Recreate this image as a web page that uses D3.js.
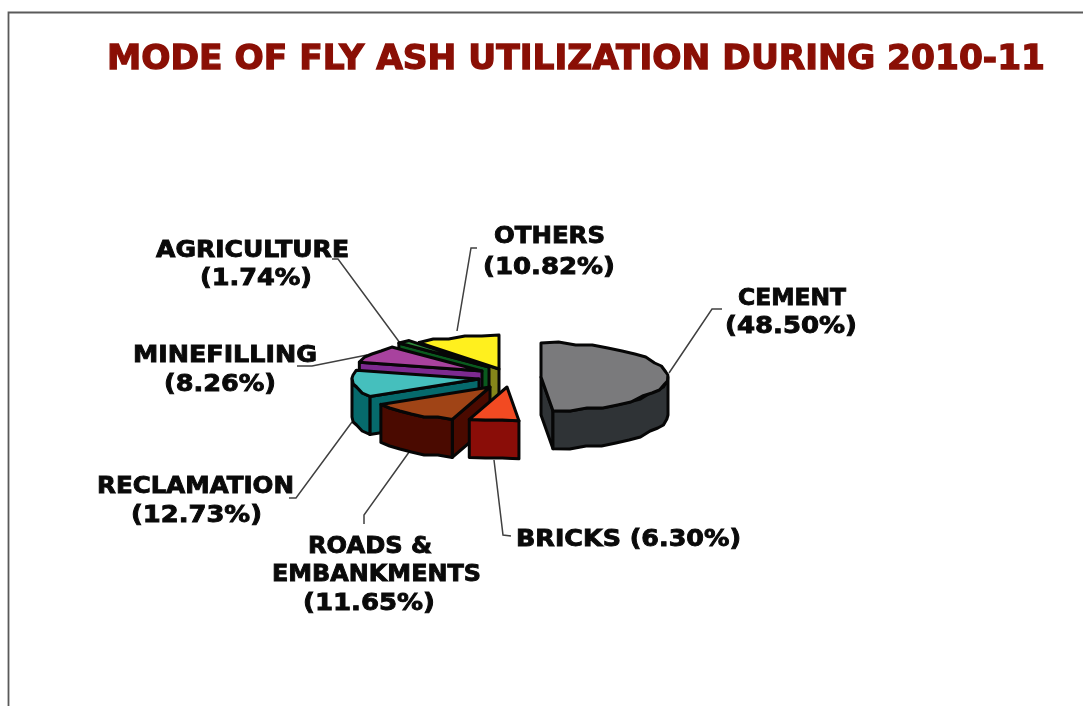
<!DOCTYPE html>
<html><head><meta charset="utf-8">
<script src="https://cdn.jsdelivr.net/npm/d3@7"></script>
<style>html,body{margin:0;padding:0;background:#fff;overflow:hidden}svg{display:block;filter:blur(.55px)}text{font-family:"DejaVu Sans";font-weight:700}</style>
</head><body><svg id="c" width="1083" height="706"></svg>
<script>
// Data
const chartTitle = "MODE OF FLY ASH UTILIZATION DURING 2010-11";
const categories = ["CEMENT","BRICKS","ROADS & EMBANKMENTS","RECLAMATION","MINEFILLING","AGRICULTURE","OTHERS"];
const shares = [48.50,6.30,11.65,12.73,8.26,1.74,10.82];
const topColors = ["#7a7a7c","#f24a22","#a04416","#45bfbd","#a8429e","#2f8a3a","#fff01e"];
const sideColors = ["#2f3336","#8a0d08","#4a0a00","#066a6c","#7d2a90","#0a5a1e","#85851a"];
// Layout
const apexX = [541,507,490,479,482,489,499];
const apexY = [377,387,387,379,371,367,369];
const depth = 38, rimRx = 127, rimRy = 34;
const labelLines = [
  [["CEMENT",738,305,108],["(48.50%)",725,333,132]],
  [["BRICKS (6.30%)",516,546,225]],
  [["ROADS &",308,553,124],["EMBANKMENTS",272,581,209],["(11.65%)",303,610,132]],
  [["RECLAMATION",97,493,197],["(12.73%)",131,522,131]],
  [["MINEFILLING",133,362,184],["(8.26%)",164,391,112]],
  [["AGRICULTURE",156,257,193],["(1.74%)",200,285,112]],
  [["OTHERS",494,243,111],["(10.82%)",483,274,132]]
];
const leaders = [
  [[722,309],[712,309],[669,373]],
  [[494,460],[503,535],[511,536]],
  [[364,524],[364,515],[412,448]],
  [[289,498],[296,498],[352,422]],
  [[297,366],[312,366],[367,355]],
  [[332,259],[338,259],[400,343]],
  [[477,248],[471,248],[457,331]]
];

const svg = d3.select("#c");
const sx = d3.scaleLinear().domain([-1,1]).range([-rimRx,rimRx]);
const sy = d3.scaleLinear().domain([-1,1]).range([-rimRy,rimRy]);
const slices = d3.pie().sort(null).value(d=>d)(shares);
const line = d3.line();
const snap = (v,s)=>Math.round(v/s)*s;

function rim(i,a0,a1,dz){
  const n = Math.max(1,Math.ceil((a1-a0)/0.14));
  return d3.range(n+1).map(k=>{
    const a = a0+(a1-a0)*k/n;
    let x = apexX[i]+sx(Math.sin(a)), y = apexY[i]+sy(-Math.cos(a));
    if(k>0&&k<n){ y = snap(y,3); }
    return [x,y+dz];
  });
}
function face(pts,fill){
  svg.append("path").attr("d",line(pts)+"Z").attr("fill",fill)
    .attr("stroke","#060606").attr("stroke-width",3).attr("stroke-linejoin","round");
}
svg.append("path").attr("d","M8.5,706V12.5H1083").attr("fill","none").attr("stroke","#5a5a5a").attr("stroke-width",1.8);

leaders.forEach(l=>svg.append("path").attr("d",line(l)).attr("fill","none").attr("stroke","#404040").attr("stroke-width",1.5));

d3.range(slices.length).reverse().forEach(i=>{
  const s = slices[i], a0 = s.startAngle, a1 = s.endAngle, mid=(a0+a1)/2;
  const ax=apexX[i], ay=apexY[i];
  const m=[sx(Math.sin(mid)),sy(-Math.cos(mid))];
  [a0,a1].forEach(a=>{
    const e=[sx(Math.sin(a)),sy(-Math.cos(a))];
    if(Math.abs(e[0])<1) return;
    if(m[1] < e[1]*m[0]/e[0]){
      face([[ax,ay],[ax+e[0],ay+e[1]],[ax+e[0],ay+e[1]+depth],[ax,ay+depth]],sideColors[i]);
    }
  });
  const w0=Math.max(a0,Math.PI/2), w1=Math.min(a1,Math.PI*1.5);
  if(w1>w0){
    face(rim(i,w0,w1,0).concat(rim(i,w0,w1,depth).reverse()),sideColors[i]);
  }
  face([[ax,ay]].concat(rim(i,a0,a1,0)),topColors[i]);
});

labelLines.forEach(ls=>ls.forEach(([t,x,y,w])=>{
  svg.append("text").attr("x",x).attr("y",y).attr("font-size",23).attr("fill","#0a0a0a")
    .attr("stroke","#0a0a0a").attr("stroke-width",0.9)
    .attr("textLength",w).attr("lengthAdjust","spacingAndGlyphs").text(t);
}));
svg.append("text").attr("x",107).attr("y",69).attr("font-size",34).attr("fill","#8a0f05")
  .attr("stroke","#8a0f05").attr("stroke-width",1.3)
  .attr("textLength",938).attr("lengthAdjust","spacingAndGlyphs").text(chartTitle);
</script></body></html>
